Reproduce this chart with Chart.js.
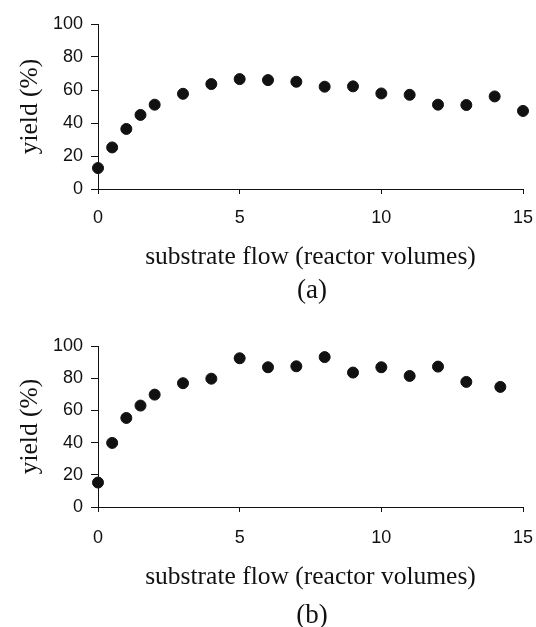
<!DOCTYPE html>
<html>
<head>
<meta charset="utf-8">
<script src="https://cdn.jsdelivr.net/npm/chart.js@4.4.1/dist/chart.umd.min.js"></script>
<style>
  body { margin: 0; background: #fff; }
  #wrap { position: relative; width: 536px; height: 627px; }
  canvas { position: absolute; left: 0; }
  .cap {
    position: absolute; left: 262px; width: 100px; text-align: center;
    font-family: "Liberation Serif", "Times New Roman", serif;
    font-size: 27px; line-height: 27px; color: #111;
  }
</style>
</head>
<body>
<div id="wrap">
  <canvas id="chartA" style="top:0px;width:536px;height:275px" width="536" height="275"></canvas>
  <div class="cap" style="top:276px">(a)</div>
  <canvas id="chartB" style="top:310px;width:536px;height:290px" width="536" height="290"></canvas>
  <div class="cap" style="top:601px">(b)</div>
</div>
<script>
// panel (a)
const flowA = [0, 0.5, 1, 1.5, 2, 3, 4, 5, 6, 7, 8, 9, 10, 11, 12, 13, 14, 15];
const yieldA = [12.7, 25.2, 36.4, 44.9, 51.1, 57.7, 63.6, 66.6, 66.0, 65.0, 62.0, 62.2, 57.9, 57.1, 51.1, 50.9, 56.1, 47.3];

// panel (b)
const flowB = [0, 0.5, 1, 1.5, 2, 3, 4, 5, 6, 7, 8, 9, 10, 11, 12, 13, 14.2];
const yieldB = [15.2, 39.8, 55.3, 63.0, 69.8, 76.9, 79.7, 92.4, 86.8, 87.4, 93.1, 83.5, 86.8, 81.4, 87.2, 77.7, 74.6];

const xTicks = [0, 5, 10, 15];
const yTicks = [0, 20, 40, 60, 80, 100];
const xTitle = "substrate flow (reactor volumes)";
const yTitle = "yield (%)";

const serif = "'Liberation Serif', 'Times New Roman', serif";
const sans = "'Liberation Sans', Arial, sans-serif";
const ink = "#111";

function makeChart(id, xs, ys, padTop, xAxisHeight, xTickPad, xTitlePad) {
  const points = xs.map((x, i) => ({ x: x, y: ys[i] }));
  return new Chart(document.getElementById(id), {
    type: "scatter",
    data: {
      datasets: [{
        data: points,
        backgroundColor: ink,
        borderColor: ink,
        pointRadius: 5.5,
        pointHoverRadius: 5.5,
        clip: false
      }]
    },
    options: {
      responsive: false,
      animation: false,
      events: [],
      layout: { padding: { top: padTop, right: 13, left: 0, bottom: 0 } },
      plugins: { legend: { display: false }, tooltip: { enabled: false } },
      scales: {
        x: {
          type: "linear",
          min: 0, max: 15,
          afterBuildTicks: s => { s.ticks = xTicks.map(v => ({ value: v })); },
          // fixed axis height; drop the label overhang so the plot spans the full width
          afterFit: s => { s.height = xAxisHeight; s.paddingLeft = 0; s.paddingRight = 0; },
          grid: { drawOnChartArea: false, drawTicks: true, tickLength: 5, color: ink },
          border: { display: true, color: ink, width: 1 },
          ticks: { color: ink, font: { family: sans, size: 18 }, padding: xTickPad, maxRotation: 0 },
          title: { display: true, text: xTitle, color: ink, font: { family: serif, size: 25.5 }, padding: { top: 0, bottom: xTitlePad } }
        },
        y: {
          type: "linear",
          min: 0, max: 100,
          afterBuildTicks: s => { s.ticks = yTicks.map(v => ({ value: v })); },
          afterFit: s => { s.width = 98; },
          grid: { drawOnChartArea: false, drawTicks: true, tickLength: 7, color: ink },
          border: { display: true, color: ink, width: 1 },
          ticks: { color: ink, font: { family: sans, size: 18 }, padding: 8 },
          title: { display: true, text: yTitle, color: ink, font: { family: serif, size: 25.5 }, padding: { top: 15, bottom: 0 } }
        }
      }
    }
  });
}

makeChart("chartA", flowA, yieldA, 24, 275 - 189, 13, 2);
makeChart("chartB", flowB, yieldB, 36, 290 - 197, 15, 7);
</script>
</body>
</html>
